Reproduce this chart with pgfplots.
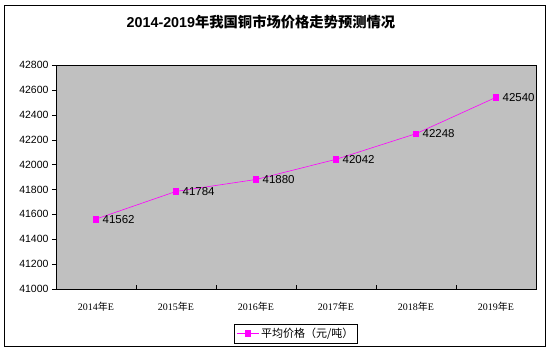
\documentclass[border=0pt]{standalone}
\usepackage{pgfplots}
\pgfplotsset{compat=1.18}
\usepackage{fontspec}
\setmainfont{Liberation Sans}
\newfontfamily\cjk{Noto Sans CJK SC}
\newfontfamily\serif{Liberation Serif}
\definecolor{plotgray}{RGB}{192,192,192}
\definecolor{mag}{RGB}{255,0,255}
\begin{document}
\begin{tikzpicture}[x=1pt,y=1pt]
\useasboundingbox (0,0) rectangle (550,352);
\draw[black,line width=0.8pt] (4,6) rectangle (545,347);
\node[font=\bfseries\fontsize{14.3}{16}\selectfont] at (261,330) {2014-2019{\cjk\bfseries 年我国铜市场价格走势预测情况}};
\begin{axis}[
  at={(56pt,63pt)}, anchor=south west,
  scale only axis, width=480pt, height=224pt,
  xmin=-0.5, xmax=5.5, ymin=41000, ymax=42800,
  axis background/.style={fill=plotgray},
  axis line style={black, line width=0.6pt},
  ytick={41000,41200,...,42800},
  scaled y ticks=false,
  /pgf/number format/fixed,
  /pgf/number format/1000 sep={},
  /pgf/number format/assume math mode=true,
  yticklabel style={font=\fontsize{10.5}{12}\selectfont},
  y tick style={black},
  tick align=outside,
  ytick pos=left,
  xtick={0,...,5},
  xticklabels={2014{\cjk 年}E,2015{\cjk 年}E,2016{\cjk 年}E,2017{\cjk 年}E,2018{\cjk 年}E,2019{\cjk 年}E},
  xticklabel style={font=\serif\fontsize{10}{12}\selectfont, yshift=-6pt},
  x tick style={draw=none},
  extra x ticks={0.5,1.5,2.5,3.5,4.5},
  extra x tick labels={},
  extra x tick style={tick align=inside, major tick length=4pt, x tick style={draw=black}, xtick pos=bottom},
  major tick length=4pt,
  legend style={at={(axis description cs:0.5,-0.199)}, anchor=center, draw=black, line width=0.6pt, font=\cjk\fontsize{11}{12}\selectfont, inner sep=2pt, legend cell align=left},
  legend image code/.code={\draw[mag, line width=0.6pt, mark repeat=2, mark phase=2] plot coordinates {(0pt,0pt) (11pt,0pt) (22pt,0pt)};},
  nodes near coords,
  nodes near coords style={anchor=west, xshift=3pt, font=\fontsize{11.5}{12}\selectfont, black},
  point meta=explicit symbolic,
]
\addplot[mag, line width=0.6pt, mark=square*, mark size=2.8pt, mark options={solid, fill=mag, draw=mag}] coordinates {
  (0,41562) [41562]
  (1,41784) [41784]
  (2,41880) [41880]
  (3,42042) [42042]
  (4,42248) [42248]
  (5,42540) [42540]
};
\addlegendentry{平均价格（元/吨）}
\end{axis}
\end{tikzpicture}
\end{document}
